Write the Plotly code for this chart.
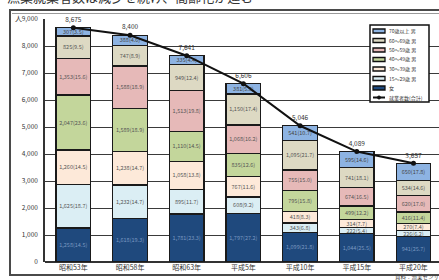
import plotly.graph_objects as go

# ---------------- data ----------------
categories = ["昭和53年", "昭和58年", "昭和63年", "平成5年", "平成10年", "平成15年", "平成20年"]
female       = [1258, 1618, 1781, 1797, 1099, 1044, 941]
male_15_29   = [1625, 1232, 895, 608, 343, 222, 226]
male_30_39   = [1260, 1238, 1058, 767, 418, 314, 270]
male_40_49   = [2047, 1589, 1110, 835, 795, 499, 416]
male_50_59   = [1353, 1588, 1513, 1068, 755, 674, 620]
male_60_69   = [825, 747, 949, 1150, 1095, 741, 534]
male_70_plus = [307, 388, 335, 381, 541, 595, 650]
totals       = [8675, 8400, 7641, 6606, 5046, 4089, 3657]
y_ticks      = [0, 1000, 2000, 3000, 4000, 5000, 6000, 7000, 8000, 9000]

series_names = ["女", "15～29歳 男", "30～39歳 男", "40～49歳 男", "50～59歳 男", "60～69歳 男", "70歳以上 男"]
series_vals = [female, male_15_29, male_30_39, male_40_49, male_50_59, male_60_69, male_70_plus]
series_colors = ["#1F497D", "#DBEEF4", "#FDE9D9", "#C3D69B", "#E6B9B8", "#DDD9C3", "#8DB3E2"]
text_colors = ["#7a98c0", "#555555", "#555555", "#555555", "#555555", "#555555", "#444444"]
total_name = "就業者数(合計)"

FONT = "Noto Sans CJK JP"
W, H = 439, 280
L, R, T, B = 45, 439, 19, 262   # plot area in pixels


def px(x):
    return (x - L) / (R - L)


def py(y):
    return (B - y) / (B - T)


fig = go.Figure()

for name, vals, col, tcol in zip(series_names, series_vals, series_colors, text_colors):
    labels = [f"{v:,}({v / t * 100:.1f})" for v, t in zip(vals, totals)]
    fig.add_trace(go.Bar(
        x=categories, y=vals, name=name,
        marker=dict(color=col, line=dict(color="#1a1a1a", width=1.3)),
        text=labels, textposition="inside", insidetextanchor="middle",
        textangle=0, constraintext="none",
        textfont=dict(size=5.5, color=tcol, family=FONT),
        showlegend=False,
    ))

fig.add_trace(go.Scatter(
    x=categories, y=totals, name=total_name,
    mode="lines+markers+text",
    line=dict(color="#111111", width=2),
    marker=dict(color="#111111", size=5),
    text=[f"{t:,}" for t in totals], textposition="top center",
    textfont=dict(size=6.5, color="#333333", family=FONT),
    cliponaxis=False, showlegend=False,
))

shapes = []
annotations = []

# outer frame
shapes.append(dict(type="rect", xref="paper", yref="paper",
                   x0=px(10), x1=px(446), y0=py(275), y1=py(10),
                   line=dict(color="#4a4a4a", width=2), fillcolor="rgba(0,0,0,0)", layer="below"))
shapes.append(dict(type="line", xref="paper", yref="paper",
                   x0=px(12), x1=px(446), y0=py(13.5), y1=py(13.5),
                   line=dict(color="#9a9a9a", width=1), layer="below"))

# custom legend
lx0, lx1, ly0, ly1 = 370, 429, 25, 102
shapes.append(dict(type="rect", xref="paper", yref="paper",
                   x0=px(lx0), x1=px(lx1), y0=py(ly1), y1=py(ly0),
                   line=dict(color="#111111", width=1.5), fillcolor="white", layer="above"))
legend_items = list(zip(series_names, series_colors))[::-1]
for i, (name, col) in enumerate(legend_items):
    yc = 31 + 9.5 * i
    shapes.append(dict(type="rect", xref="paper", yref="paper",
                       x0=px(373), x1=px(385), y0=py(yc + 2), y1=py(yc - 2),
                       line=dict(color="#111111", width=1.3), fillcolor=col, layer="above"))
    annotations.append(dict(xref="paper", yref="paper", x=px(387), y=py(yc),
                            xanchor="left", yanchor="middle", showarrow=False,
                            text=name, font=dict(size=5, color="#333333", family=FONT)))
yc = 31 + 9.5 * 7
shapes.append(dict(type="line", xref="paper", yref="paper",
                   x0=px(373), x1=px(385), y0=py(yc), y1=py(yc),
                   line=dict(color="#111111", width=2), layer="above"))
shapes.append(dict(type="circle", xref="paper", yref="paper",
                   x0=px(377.5), x1=px(380.5), y0=py(yc + 1.5), y1=py(yc - 1.5),
                   line=dict(color="#111111", width=1), fillcolor="#111111", layer="above"))
annotations.append(dict(xref="paper", yref="paper", x=px(387), y=py(yc),
                        xanchor="left", yanchor="middle", showarrow=False,
                        text=total_name, font=dict(size=5, color="#333333", family=FONT)))

# unit, title (cropped at top), source
annotations.append(dict(xref="paper", yref="paper", x=px(18), y=py(18),
                        xanchor="center", yanchor="middle", showarrow=False,
                        text="人", font=dict(size=7, color="#333333", family=FONT)))
annotations.append(dict(xref="paper", yref="paper", x=px(5), y=py(-4),
                        xanchor="left", yanchor="middle", showarrow=False,
                        text="漁業就業者数は減少を続け、高齢化が進む",
                        font=dict(size=13, color="#333333", family=FONT)))
annotations.append(dict(xref="paper", yref="paper", x=px(393), y=py(277),
                        xanchor="left", yanchor="middle", showarrow=False,
                        text="資料：漁業センサス",
                        font=dict(size=5.5, color="#444444", family=FONT)))

fig.update_layout(
    width=W, height=H,
    margin=dict(l=L, r=W - R, t=T, b=H - B, pad=0),
    barmode="stack", bargap=0.39,
    plot_bgcolor="white", paper_bgcolor="white",
    font=dict(family=FONT, color="#333333"),
    shapes=shapes, annotations=annotations,
    showlegend=False,
    xaxis=dict(type="category", range=[-0.5, 6.45], showgrid=False, showline=False,
               ticks="", tickfont=dict(size=7, color="#333333"), fixedrange=True),
    yaxis=dict(range=[0, 9000], tickvals=y_ticks, tickformat=",d",
               showgrid=True, gridcolor="#3a3a3a", gridwidth=1.2,
               showline=True, linecolor="#333333", linewidth=1.5,
               zeroline=True, zerolinecolor="#333333", zerolinewidth=1.5,
               ticks="", ticklabelstandoff=4,
               tickfont=dict(size=6.5, color="#333333"), fixedrange=True),
)

fig.write_html("out.html", config={"displayModeBar": False},
               post_script="document.body.style.margin='0';document.body.style.overflow='hidden';")
